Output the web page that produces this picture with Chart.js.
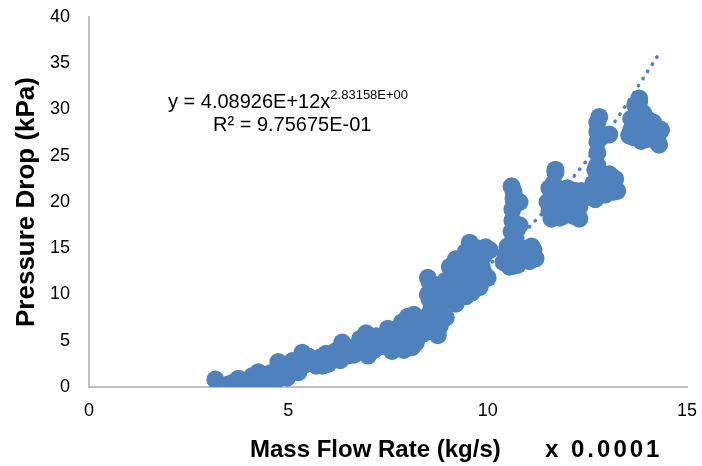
<!DOCTYPE html>
<html>
<head>
<meta charset="utf-8">
<script src="https://cdn.jsdelivr.net/npm/chart.js@4.4.1/dist/chart.umd.min.js"></script>
<style>
  html, body { margin: 0; padding: 0; background: #fff; }
  #wrap { width: 702px; height: 466px; }
</style>
</head>
<body>
<div id="wrap"><canvas id="chartScatter"></canvas></div>
<script>
Chart.defaults.animation = false;
Chart.defaults.font.family = '"Liberation Sans", Arial, sans-serif';
Chart.defaults.color = '#000';

// measured points, mass flow rate (x 0.0001 kg/s) and pressure drop (kPa)
const massFlow = [
  3.17, 3.5, 3.65, 3.75, 3.85, 3.95, 4.05, 4.1, 4.15, 4.25, 4.3, 4.4, 4.45, 4.55, 4.6, 4.65, 4.75, 4.8, 4.9, 4.97, 5.0,
  5.1, 5.2, 5.25, 5.35, 5.4, 5.5, 5.6, 5.7, 5.8, 5.85, 5.95, 6.0, 6.1, 6.2, 6.3, 6.35, 6.45, 6.5, 6.55, 6.65,
  6.75, 6.8, 6.9, 6.95, 7.0, 7.05, 7.15, 7.2,
  7.3, 7.4, 7.5, 7.55, 7.6, 7.7, 7.75, 7.85, 7.9, 7.95, 8.0, 8.05, 8.1, 8.15, 8.2, 8.25, 8.3,
  8.4, 8.45, 8.5, 8.5, 8.5, 8.55, 8.55, 8.6, 8.6, 8.55, 8.65, 8.7, 8.7, 8.75, 8.8, 8.8, 8.85, 8.9, 8.95, 8.95,
  9.0, 9.05, 9.1, 9.1, 9.15, 9.2, 9.2, 9.25, 9.3, 9.35, 9.4, 9.45, 9.45, 9.5, 9.5, 9.55, 9.6, 9.6, 9.65,
  9.7, 9.75, 9.75, 9.8, 9.85, 9.9, 9.9, 9.95, 10.0, 10.05,
  10.45, 10.55, 10.55, 10.6, 10.6, 10.62, 10.62, 10.65, 10.65, 10.6, 10.65, 10.7, 10.7, 10.8, 10.8,
  10.4, 10.5, 10.75, 10.85, 10.9, 11.0, 11.05, 11.1, 11.15, 11.2,
  11.5, 11.55, 11.55, 11.6, 11.6, 11.65, 11.7, 11.7, 11.7, 11.75, 11.8, 11.85, 11.9, 11.95, 12.0, 12.05,
  12.1, 12.15, 12.2, 12.25, 12.3, 12.3, 12.35,
  12.6, 12.65, 12.7, 12.7, 12.75, 12.75, 12.75, 12.75, 12.75, 12.75, 12.75, 12.8, 12.8, 12.85, 13.05,
  12.55, 12.9, 13.0, 13.05, 13.1, 13.15, 12.95, 13.2, 13.25,
  13.55, 13.6, 13.6, 13.65, 13.65, 13.7, 13.7, 13.75, 13.75, 13.8, 13.8, 13.85, 13.85, 13.9, 13.9, 13.95,
  14.0, 14.0, 14.05, 14.1, 14.1, 14.15, 14.2, 14.25, 14.3, 14.3, 14.35
];
const pressureDrop = [
  0.8, 0.3, 0.55, 0.9, 0.4, 0.7, 0.35, 1.2, 0.6, 1.6, 0.9, 0.5, 1.1, 1.5, 0.8, 0.4, 2.7, 1.6, 2.0, 1.0, 1.4,
  2.8, 2.0, 1.6, 3.7, 2.4, 3.3, 2.9, 2.3, 3.2, 2.3, 3.6, 2.5, 3.0, 3.9, 2.9, 4.8, 4.0, 3.4, 4.2, 3.5,
  4.4, 5.2, 4.2, 5.8, 3.4, 4.8, 4.0, 5.5,
  4.4, 5.4, 6.3, 4.2, 3.9, 6.2, 5.2, 7.0, 4.0, 5.0, 7.6, 5.5, 4.3, 7.8, 4.8, 6.5, 5.8,
  5.8, 7.5, 6.8, 10.0, 11.8, 8.0, 9.4, 10.4, 8.8, 11.3, 6.0, 7.5, 11.0, 5.6, 6.6, 8.0, 9.0, 10.0, 7.5, 11.5,
  10.5, 13.0, 11.5, 9.3, 12.5, 9.0, 13.8, 10.3, 12.0, 13.2, 11.0, 9.8, 14.6, 13.5, 12.3, 15.6, 10.2, 14.6, 12.3,
  14.2, 11.5, 15.0, 10.8, 13.0, 12.3, 14.2, 15.1, 11.8, 14.8,
  14.3, 13.0, 14.2, 15.5, 16.8, 18.0, 19.2, 20.3, 21.1, 21.7, 13.1, 19.8, 16.0, 20.0, 17.5,
  13.5, 15.2, 13.2, 15.0, 14.5, 14.0, 13.6, 15.2, 14.8, 13.9,
  20.0, 19.0, 21.5, 20.5, 18.2, 22.0, 23.2, 21.0, 23.5, 19.0, 18.3, 19.8, 18.5, 20.8, 21.5, 19.5,
  20.2, 18.5, 21.2, 20.5, 18.2, 19.5, 21.2,
  20.5, 22.0, 20.3, 23.5, 21.5, 22.8, 24.0, 25.3, 26.5, 27.6, 28.6, 21.0, 29.2, 27.0, 27.3,
  21.0, 22.0, 21.5, 23.0, 22.8, 21.1, 20.8, 22.5, 21.2,
  27.2, 27.8, 29.0, 27.0, 28.4, 29.0, 30.5, 30.0, 27.0, 30.8, 31.2, 28.5, 26.6, 29.6, 28.2, 27.5,
  26.8, 29.0, 28.3, 27.0, 27.8, 28.6, 28.0, 26.5, 27.5, 26.2, 27.8
];

// dotted power trendline
const trendX = [3.2, 4, 5, 6, 7, 8, 9, 10, 11, 12, 13, 14.25];
const trendY = [0.52, 0.98, 1.84, 3.08, 4.77, 6.96, 9.71, 13.1, 17.1, 21.9, 27.5, 35.7];

const xTicks = [0, 5, 10, 15];
const yTicks = [0, 5, 10, 15, 20, 25, 30, 35, 40];

const eqMain = 'y = 4.08926E+12x';
const eqPower = '2.83158E+00';
const eqR2 = 'R\u00b2 = 9.75675E-01';
const xTitle = 'Mass Flow Rate (kg/s)';
const xUnit = 'x 0.0001';
const yTitle = 'Pressure Drop (kPa)';

const blue = '#4F81BD';

const labelsPlugin = {
  id: 'labels',
  afterDraw(chart) {
    const ctx = chart.ctx;
    const a = chart.chartArea;
    ctx.save();
    ctx.fillStyle = '#000';
    ctx.textBaseline = 'alphabetic';
    ctx.textAlign = 'left';
    // trendline equation
    ctx.font = '20px "Liberation Sans", Arial, sans-serif';
    ctx.fillText(eqMain, a.left + 79, 108);
    const w = ctx.measureText(eqMain).width;
    ctx.font = '13px "Liberation Sans", Arial, sans-serif';
    ctx.fillText(eqPower, a.left + 79 + w, 99);
    ctx.font = '20px "Liberation Sans", Arial, sans-serif';
    ctx.fillText(eqR2, a.left + 124, 131);
    // x axis title
    ctx.font = 'bold 24px "Liberation Sans", Arial, sans-serif';
    ctx.fillText(xTitle, 250, 457);
    ctx.letterSpacing = '3px';
    ctx.fillText(xUnit, 545, 457);
    ctx.restore();
  }
};

const ctxScatter = document.getElementById('chartScatter');

new Chart(ctxScatter, {
  type: 'scatter',
  data: {
    datasets: [
      {
        label: 'Trend',
        data: trendX.map((x, i) => ({ x: x, y: trendY[i] })),
        showLine: true,
        borderColor: blue,
        borderWidth: 3.5,
        borderDash: [0.5, 8],
        borderCapStyle: 'round',
        cubicInterpolationMode: 'monotone',
        pointRadius: 0,
        order: 2
      },
      {
        label: 'Pressure Drop',
        data: massFlow.map((x, i) => ({ x: x, y: pressureDrop[i] })),
        backgroundColor: blue,
        borderColor: blue,
        borderWidth: 0,
        pointRadius: 9,
        order: 1
      }
    ]
  },
  options: {
    responsive: true,
    maintainAspectRatio: false,
    animation: false,
    layout: { padding: { left: 0, right: 15, top: 17, bottom: 0 } },
    plugins: {
      legend: { display: false },
      tooltip: { enabled: false }
    },
    scales: {
      x: {
        type: 'linear',
        min: 0,
        max: 15,
        afterBuildTicks: (s) => { s.ticks = xTicks.map(v => ({ value: v })); },
        afterFit: (s) => { s.height = 79; s.paddingLeft = 0; s.paddingRight = 0; },
        grid: { display: false, drawTicks: false },
        border: { display: true, color: '#BFBFBF', width: 2 },
        ticks: { padding: 13, font: { size: 18 }, color: '#000' }
      },
      y: {
        type: 'linear',
        min: 0,
        max: 40,
        afterBuildTicks: (s) => { s.ticks = yTicks.map(v => ({ value: v })); },
        afterFit: (s) => { s.width = 89; s.paddingTop = 0; s.paddingBottom = 0; },
        grid: { display: false, drawTicks: false },
        border: { display: true, color: '#BFBFBF', width: 2 },
        ticks: { padding: 19, font: { size: 18 }, color: '#000' },
        title: {
          display: true,
          text: yTitle,
          color: '#000',
          font: { size: 26, weight: 'bold' },
          padding: { top: 11, bottom: 0 }
        }
      }
    }
  },
  plugins: [labelsPlugin]
});
</script>
</body>
</html>
